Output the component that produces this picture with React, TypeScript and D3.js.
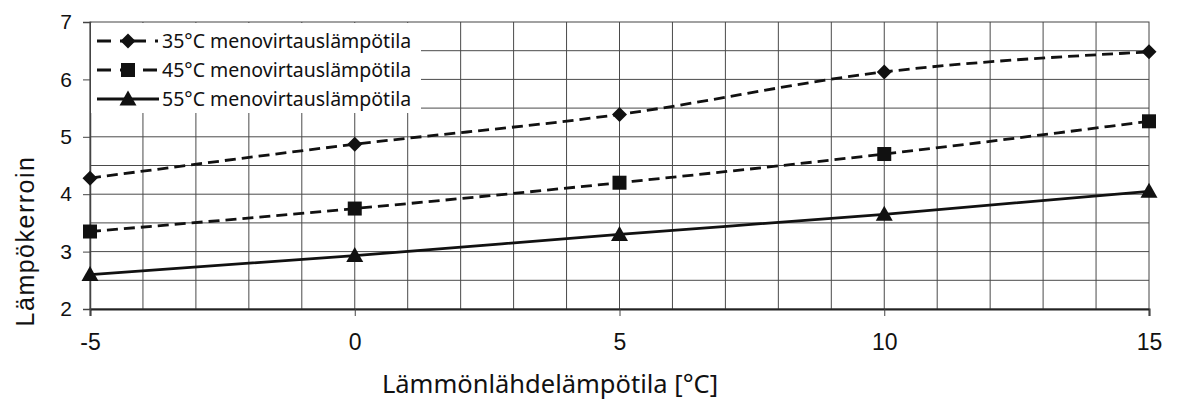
import React, { useRef, useEffect } from "react";
import * as d3 from "d3";

const sourceTemps = [-5, 0, 5, 10, 15];
const cop35 = [4.28, 4.87, 5.39, 6.13, 6.48];
const cop45 = [3.35, 3.75, 4.2, 4.7, 5.27];
const cop55 = [2.6, 2.93, 3.3, 3.65, 4.05];
const xTicks = [-5, 0, 5, 10, 15];
const yTicks = [2, 3, 4, 5, 6, 7];

const seriesList = [
  { name: "35°C menovirtauslämpötila", values: cop35, dash: "11,6", legendDash: "14,9,3,9", marker: "diamond" },
  { name: "45°C menovirtauslämpötila", values: cop45, dash: "11,6", legendDash: "14,9", marker: "square" },
  { name: "55°C menovirtauslämpötila", values: cop55, dash: null, legendDash: null, marker: "triangle" },
];

const width = 1178;
const height = 401;

function App() {
  const svgRef = useRef<SVGSVGElement>(null);

  useEffect(() => {
    const svg = d3.select(svgRef.current);
    svg.selectAll("*").remove();

    const margin = { top: 22, right: 29, bottom: 92, left: 90 };
    const innerWidth = width - margin.left - margin.right;
    const innerHeight = height - margin.top - margin.bottom;

    const xScale = d3.scaleLinear().domain([-5, 15]).range([0, innerWidth]);
    const yScale = d3.scaleLinear().domain([2, 7]).range([innerHeight, 0]);

    svg.append("rect").attr("width", width).attr("height", height).attr("fill", "white");

    const g = svg.append("g").attr("transform", `translate(${margin.left}, ${margin.top})`);

    // grid
    g.selectAll(".vgrid")
      .data(d3.range(-4, 15, 1))
      .enter()
      .append("line")
      .attr("x1", (d) => xScale(d))
      .attr("x2", (d) => xScale(d))
      .attr("y1", 0)
      .attr("y2", innerHeight)
      .attr("stroke", "#4a4a4a")
      .attr("stroke-width", 1);

    g.selectAll(".hgrid")
      .data(d3.range(2.5, 7, 0.5))
      .enter()
      .append("line")
      .attr("x1", 0)
      .attr("x2", innerWidth)
      .attr("y1", (d) => yScale(d))
      .attr("y2", (d) => yScale(d))
      .attr("stroke", "#4a4a4a")
      .attr("stroke-width", 1);

    // frame
    g.append("rect")
      .attr("width", innerWidth)
      .attr("height", innerHeight)
      .attr("fill", "none")
      .attr("stroke", "#444")
      .attr("stroke-width", 1);

    // axes
    const xAxis = d3
      .axisBottom(xScale)
      .tickValues(xTicks)
      .tickSize(7)
      .tickPadding(18)
      .tickFormat((d) => String(d));
    const gx = g.append("g").attr("transform", `translate(0, ${innerHeight})`).call(xAxis);
    gx.select(".domain").attr("stroke", "#222").attr("stroke-width", 2);
    gx.selectAll(".tick line").attr("stroke", "#444");
    gx.selectAll("text")
      .attr("fill", "#111")
      .style("font-family", "'Liberation Sans', Arial, sans-serif")
      .style("font-size", "23px");

    const yAxis = d3
      .axisLeft(yScale)
      .tickValues(yTicks)
      .tickSize(7)
      .tickPadding(11)
      .tickFormat((d) => String(d));
    const gy = g.append("g").call(yAxis);
    gy.select(".domain").attr("stroke", "#444").attr("stroke-width", 1.5);
    gy.selectAll(".tick line").attr("stroke", "#444");
    gy.selectAll("text")
      .attr("fill", "#111")
      .style("font-family", "'Liberation Sans', Arial, sans-serif")
      .style("font-size", "21px");

    // lines
    const line = d3
      .line<number>()
      .x((_, i) => xScale(sourceTemps[i]))
      .y((d) => yScale(d))
      .curve(d3.curveMonotoneX);

    const drawMarker = (sel: any, type: string, x: number, y: number) => {
      if (type === "diamond") {
        sel.append("path")
          .attr("d", `M${x},${y - 7.5}L${x + 7.5},${y}L${x},${y + 7.5}L${x - 7.5},${y}Z`)
          .attr("fill", "#111");
      } else if (type === "square") {
        sel.append("rect")
          .attr("x", x - 7)
          .attr("y", y - 7)
          .attr("width", 14)
          .attr("height", 14)
          .attr("fill", "#111");
      } else {
        sel.append("path")
          .attr("d", `M${x},${y - 8.5}L${x + 8.5},${y + 6.5}L${x - 8.5},${y + 6.5}Z`)
          .attr("fill", "#111");
      }
    };

    seriesList.forEach((s) => {
      g.append("path")
        .datum(s.values)
        .attr("d", line)
        .attr("fill", "none")
        .attr("stroke", "#111")
        .attr("stroke-width", 2.8)
        .attr("stroke-dasharray", s.dash);
      s.values.forEach((v, i) => drawMarker(g, s.marker, xScale(sourceTemps[i]), yScale(v)));
    });

    // legend
    const legend = g.append("g").attr("transform", "translate(1, 1)");
    legend.append("rect").attr("width", 330).attr("height", 90).attr("fill", "white");
    seriesList.forEach((s, i) => {
      const ly = 18 + i * 29;
      legend.append("line")
        .attr("x1", 6)
        .attr("x2", 68)
        .attr("y1", ly)
        .attr("y2", ly)
        .attr("stroke", "#111")
        .attr("stroke-width", 2.8)
        .attr("stroke-dasharray", s.legendDash);
      drawMarker(legend, s.marker, 37, ly);
      legend.append("text")
        .attr("x", 71)
        .attr("y", ly + 7)
        .attr("fill", "#111")
        .style("font-family", "'Noto Sans', sans-serif")
        .style("font-size", "19.5px")
        .text(s.name);
    });

    // axis titles
    svg.append("text")
      .attr("x", 550)
      .attr("y", 393)
      .attr("text-anchor", "middle")
      .attr("fill", "#111")
      .style("font-family", "'Noto Sans', sans-serif")
      .style("font-size", "25.5px")
      .text("Lämmönlähdelämpötila [°C]");

    svg.append("text")
      .attr("transform", "translate(34, 241) rotate(-90)")
      .attr("text-anchor", "middle")
      .attr("fill", "#111")
      .style("font-family", "'Liberation Sans', Arial, sans-serif")
      .style("font-size", "25px")
      .style("letter-spacing", "1.5px")
      .text("Lämpökerroin");
  }, []);

  return (
    <svg
      ref={svgRef}
      width={width}
      height={height}
      style={{ position: "absolute", left: 0, top: 0, display: "block" }}
    ></svg>
  );
}

export default App;
